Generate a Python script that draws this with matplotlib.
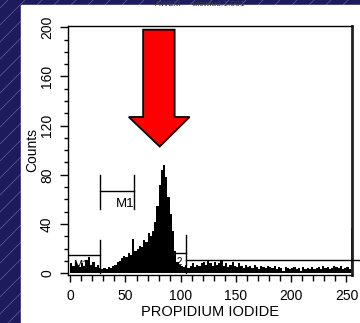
import numpy as np
import matplotlib
matplotlib.use("Agg")
import matplotlib.pyplot as plt
from matplotlib.patches import Rectangle, Polygon

plt.rcParams['font.family'] = ['Liberation Sans', 'DejaVu Sans']

# histogram: bins of width 2 over channel 0..256
bin_width = 2
counts = [
    8, 6, 9, 7, 5, 8, 6, 11, 13, 7,          # 0-19
    9, 5, 7, 4, 3, 4, 3, 5, 4, 6,            # 20-39
    7, 9, 10, 12, 14, 13, 16, 15, 28, 18,    # 40-59
    20, 22, 21, 27, 25, 33, 30, 34, 42, 55,  # 60-79
    72, 84, 88, 78, 62, 48, 34, 18, 9, 7,    # 80-99
    6, 5, 7, 4, 6, 8, 5, 7, 6, 8,            # 100-119
    9, 7, 10, 8, 6, 9, 7, 8, 10, 6,          # 120-139
    8, 5, 7, 9, 6, 5, 8, 6, 4, 7,            # 140-159
    5, 6, 4, 7, 5, 3, 6, 5, 4, 6,            # 160-179
    5, 4, 6, 3, 5, 4, 2, 5, 4, 3,            # 180-199
    4, 5, 3, 4, 2, 5, 3, 4, 3, 5,            # 200-219
    3, 4, 5, 3, 6, 4, 5, 3, 4, 6,            # 220-239
    5, 4, 6, 3, 4, 5, 3, 37,                 # 240-255
]
edges = np.arange(len(counts) + 1) * bin_width

x_ticks = [0, 50, 100, 150, 200, 250]
y_ticks = [0, 40, 80, 120, 160, 200]

# markers: (x_start, x_end, level)
marker_m1 = (-2, 27, 14.5)
marker_m2 = (27, 58, 67)
marker_m3 = (104.5, 262, 11)

W, H = 360, 323
fig = plt.figure(figsize=(W / 100, H / 100), dpi=100)

# slide background
bg = fig.add_axes([0, 0, 1, 1], zorder=-10)
bg.set_xlim(0, W)
bg.set_ylim(0, H)
bg.axis('off')
bg.add_patch(Rectangle((0, 0), W, H, color='#1d1b5c', zorder=0))
for s in np.arange(-400, 400, 17):
    bg.plot([s, s + 400], [0, 400], color='#8a88c8', lw=0.5, alpha=0.6,
            zorder=1)
bg.add_patch(Rectangle((21, 0), W - 21, H - 5, color='white', zorder=3))
bg.text(200, H - 5, "AWEM     ulcwlud.1.001", ha='center', va='center',
        fontsize=6, color='#404040', zorder=4)

ax = fig.add_axes([68 / W, (H - 275) / H, (352 - 68) / W, (275 - 26) / H])
ax.set_xlim(-2, 255)
ax.set_ylim(-1.5, 201)

ax.stairs(counts, edges, fill=True, color='black', baseline=0, zorder=2)

# marker bars
k = dict(color='black', lw=1, zorder=3)
ax.plot([marker_m1[0], marker_m1[1]], [marker_m1[2]] * 2, **k)
ax.plot([marker_m1[1]] * 2, [0, 27], **k)
ax.text(10, 6.5, "M1", fontsize=8, ha='center', va='center', zorder=4)

ax.plot([marker_m2[0], marker_m2[1]], [marker_m2[2]] * 2, **k)
ax.plot([marker_m2[0]] * 2, [52, 80], **k)
ax.plot([marker_m2[1]] * 2, [52, 80], **k)
ax.text(50, 56, "M1", fontsize=9.5, ha='center', va='center', zorder=4)

ax.plot([93, 104.5], [16, 16], **k)
ax.text(99, 9, "2", fontsize=7, ha='center', va='center', zorder=4)
ax.plot([marker_m3[0], marker_m3[1]], [marker_m3[2]] * 2, clip_on=False, **k)
ax.plot([marker_m3[0]] * 2, [0, 31], **k)

# red arrow
arrow = Polygon([(66, 198), (94.5, 198), (94.5, 127), (108, 127), (81, 103),
                 (53, 127), (66, 127)], closed=True, facecolor='#ff0000',
                edgecolor='black', lw=1.3, zorder=5)
ax.add_patch(arrow)

# axes styling
for side in ['left', 'bottom', 'top']:
    ax.spines[side].set_linewidth(1)
    ax.spines[side].set_color('black')
ax.spines['right'].set_linewidth(2)
ax.spines['right'].set_color('#222222')

ax.set_xticks(x_ticks)
ax.set_xticklabels([str(v) for v in x_ticks])
ax.set_xticks(np.arange(0, 256, 10), minor=True)
ax.set_yticks(y_ticks)
ax.set_yticklabels([str(v) for v in y_ticks], rotation=90, va='center')
ax.set_yticks(np.arange(0, 201, 10), minor=True)
ax.tick_params(axis='both', which='major', direction='out', length=5, width=1,
               labelsize=10, colors='black')
ax.tick_params(axis='x', which='major', pad=5)
ax.tick_params(axis='y', which='major', pad=4, length=6)
ax.tick_params(axis='x', which='minor', direction='out', length=4, width=1)
ax.tick_params(axis='y', which='minor', direction='out', length=3, width=1)

fig.text(210 / W, 1 - 312 / H, "PROPIDIUM IODIDE", ha='center', va='center',
         fontsize=10.5)
fig.text(32 / W, 1 - 150 / H, "Counts", ha='center', va='center',
         rotation=90, fontsize=10)

fig.savefig("out.png", dpi=100)
